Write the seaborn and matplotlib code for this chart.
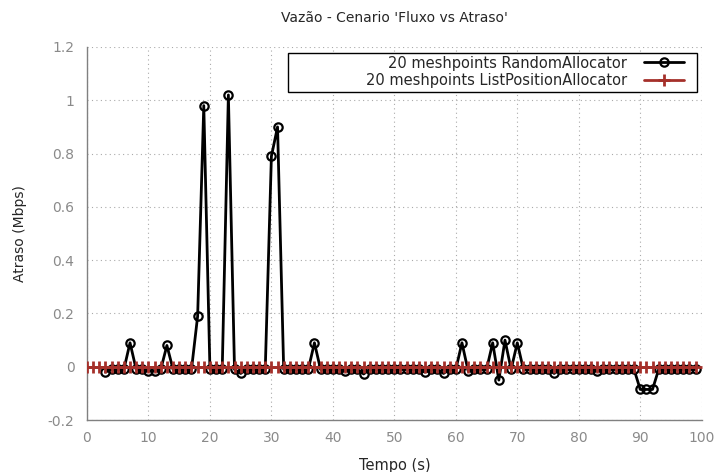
import numpy as np
import pandas as pd
import seaborn as sns
import matplotlib
matplotlib.use("Agg")
import matplotlib.pyplot as plt
from matplotlib.ticker import FuncFormatter
from matplotlib.patches import Rectangle

# time (s) for each series
tempo_random = list(range(3, 100))
atraso_random = [
    -0.02, -0.01, -0.01, -0.01, 0.09, -0.01, -0.01, -0.015, -0.015, -0.01,   # 3-12
    0.08, -0.01, -0.01, -0.01, -0.01, 0.19, 0.98, -0.01, -0.01, -0.01,       # 13-22
    1.02, -0.01, -0.025, -0.01, -0.01, -0.01, -0.01, 0.79, 0.90, -0.01,      # 23-32
    -0.01, -0.01, -0.01, -0.01, 0.09, -0.01, -0.01, -0.01, -0.01, -0.015,    # 33-42
    -0.01, -0.01, -0.027, -0.01, -0.01, -0.01, -0.01, -0.01, -0.01, -0.01,   # 43-52
    -0.01, -0.01, -0.02, -0.01, -0.01, -0.025, -0.01, -0.01, 0.09, -0.015,   # 53-62
    -0.01, -0.01, -0.01, 0.09, -0.05, 0.10, -0.01, 0.09, -0.01, -0.01,       # 63-72
    -0.01, -0.01, -0.01, -0.025, -0.01, -0.01, -0.01, -0.01, -0.01, -0.01,   # 73-82
    -0.015, -0.01, -0.01, -0.01, -0.01, -0.01, -0.01, -0.085, -0.085, -0.085,  # 83-92
    -0.01, -0.01, -0.01, -0.01, -0.01, -0.01, -0.01,                          # 93-99
]
tempo_list = list(range(0, 100))
atraso_list = [0.0] * len(tempo_list)

label_random = "20 meshpoints RandomAllocator"
label_list = "20 meshpoints ListPositionAllocator"

df_random = pd.DataFrame({"Tempo": tempo_random, "Atraso": atraso_random})
df_list = pd.DataFrame({"Tempo": tempo_list, "Atraso": atraso_list})

sns.set_theme(style="white")
plt.rcParams["font.family"] = ["DejaVu Sans"]

fig = plt.figure(figsize=(7.16, 4.72), dpi=100)
ax = fig.add_axes([0.1215, 0.110, 0.8585, 0.7905])

red = "#a5302a"
sns.lineplot(data=df_random, x="Tempo", y="Atraso", ax=ax, color="black",
             linewidth=2, marker="o", markersize=6, markerfacecolor="none",
             markeredgecolor="black", markeredgewidth=1.6, label=label_random,
             zorder=2)
sns.lineplot(data=df_list, x="Tempo", y="Atraso", ax=ax, color=red,
             linewidth=2, marker="+", markersize=8, markeredgewidth=2,
             markeredgecolor=red, label=label_list, zorder=3)

ax.set_xlim(0, 100)
ax.set_ylim(-0.2, 1.2)
ax.set_xticks(np.arange(0, 101, 10))
ax.set_yticks(np.arange(-0.2, 1.21, 0.2))
ax.yaxis.set_major_formatter(FuncFormatter(lambda v, p: "%g" % round(v, 2)))

ax.grid(True, linestyle=(0, (1, 3)), color="#aaaaaa", linewidth=0.8)
for s in ["top", "right"]:
    ax.spines[s].set_visible(False)
for s in ["left", "bottom"]:
    ax.spines[s].set_color("#808080")
    ax.spines[s].set_linewidth(1)
ax.tick_params(direction="in", length=5, width=1, color="#808080",
               labelcolor="#8a8a8a", labelsize=10)
ax.tick_params(axis="y", pad=9)
ax.tick_params(axis="x", pad=8)

ax.set_title("Vazão - Cenario 'Fluxo vs Atraso'", fontsize=10, pad=18)
ax.set_xlabel("Tempo (s)", fontsize=10.5, labelpad=9)
ax.set_ylabel("Atraso (Mbps)", fontsize=10, labelpad=15)

# legend box like gnuplot's key
ax.add_patch(Rectangle((0.327, 0.879), 0.665, 0.105, transform=ax.transAxes,
                       facecolor="white", edgecolor="black", linewidth=1,
                       zorder=4))
leg = ax.legend(loc="upper right", markerfirst=False, frameon=False,
                fontsize=10.5, handlelength=2.75, handletextpad=1.2,
                labelspacing=0.15, borderpad=0, borderaxespad=0,
                bbox_to_anchor=(0.972, 0.977))
leg.set_zorder(5)

fig.savefig("out.png", dpi=100, facecolor="white")
